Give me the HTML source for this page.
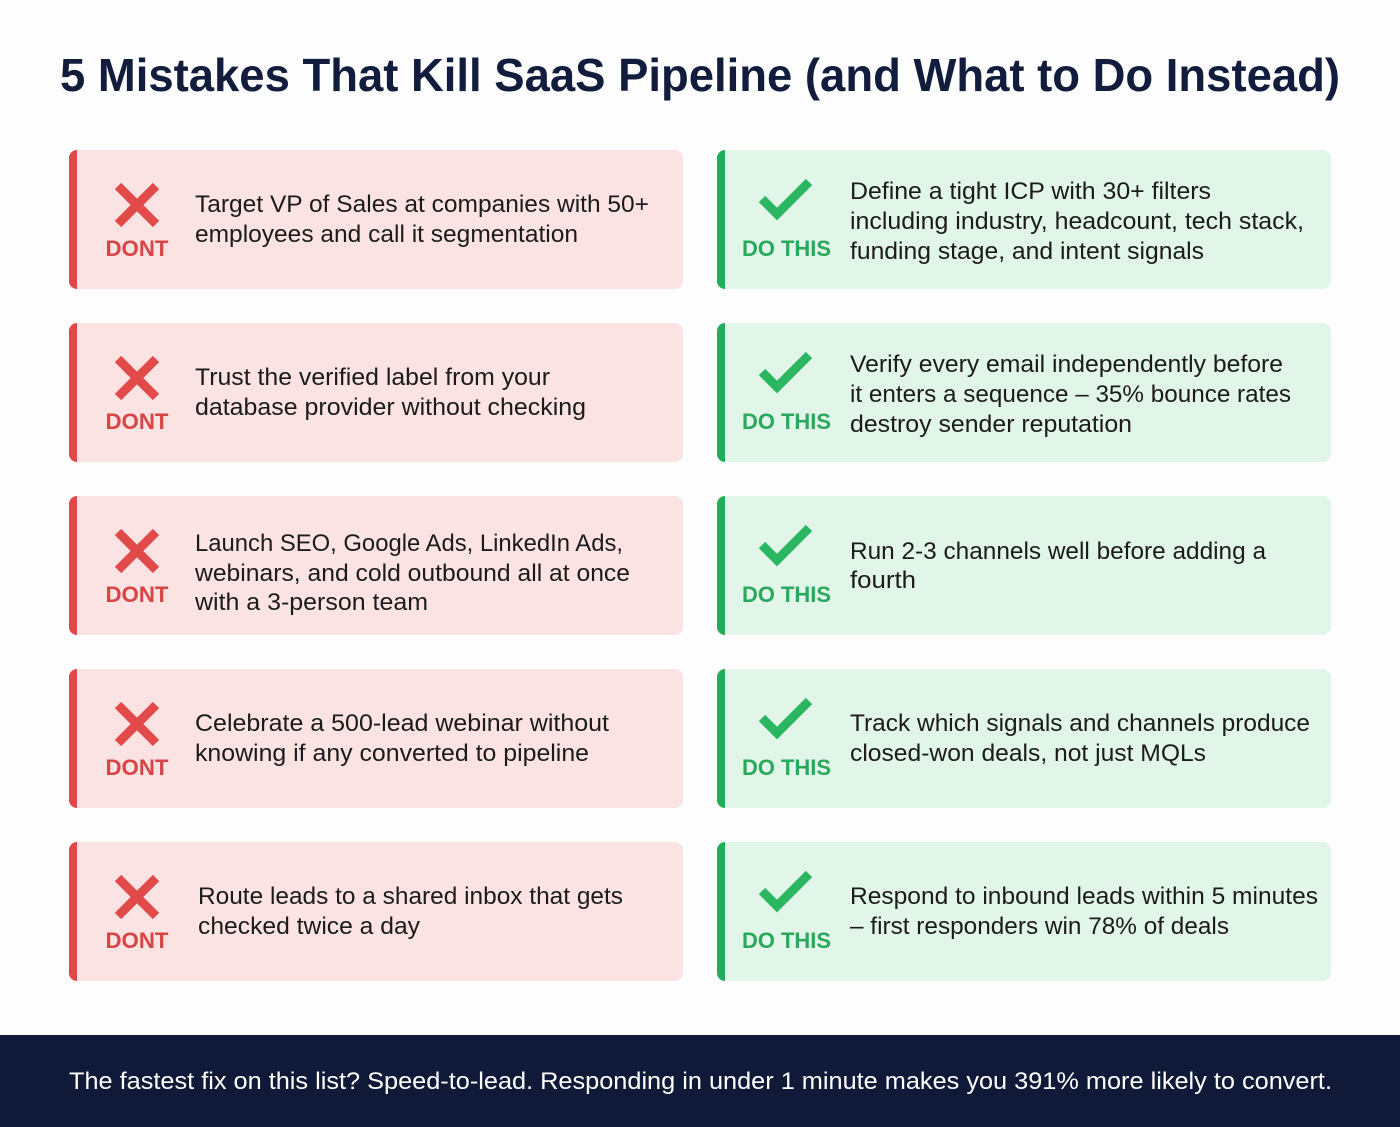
<!DOCTYPE html>
<html><head><meta charset="utf-8"><style>
html,body{margin:0;padding:0;background:#fdfdfd;}
svg{display:block;}
text{font-family:"Liberation Sans",sans-serif;}
</style></head><body>
<svg width="1400" height="1127" viewBox="0 0 1400 1127" xmlns="http://www.w3.org/2000/svg">
<rect width="1400" height="1127" fill="#fdfdfd"/>
<text x="60" y="91" font-size="46" font-weight="bold" fill="#121c3c" textLength="1280" lengthAdjust="spacingAndGlyphs">5 Mistakes That Kill SaaS Pipeline (and What to Do Instead)</text>

<defs>
<g id="L">
<rect x="69" y="0" width="614" height="139" rx="8" fill="#fbe3e3"/>
<path d="M77 0 h-0 a8 8 0 0 0 -8 8 v123 a8 8 0 0 0 8 8 h0 z" fill="#e04848"/>
<rect x="69" y="6" width="8" height="127" fill="#e04848"/>
<path d="M118 36 L156 74 M156 36 L118 74" stroke="#e24a4a" stroke-width="9"/>
<text x="137" y="106" font-size="22" font-weight="bold" fill="#d94444" text-anchor="middle" textLength="63" lengthAdjust="spacingAndGlyphs">DONT</text>
</g>
<g id="R">
<rect x="717" y="0" width="614" height="139" rx="8" fill="#e2f5e9"/>
<rect x="717" y="6" width="8" height="127" fill="#22ad58"/>
<path d="M717 8 a8 8 0 0 1 8 -8 v139 a8 8 0 0 1 -8 -8 z" fill="#22ad58"/>
<path d="M762 49 L777 64 L809 32" stroke="#2bb661" stroke-width="9" fill="none"/>
<text x="742" y="106" font-size="22" font-weight="bold" fill="#2aa85c" textLength="89" lengthAdjust="spacingAndGlyphs">DO THIS</text>
</g>
</defs>

<use href="#L" y="150"/><use href="#R" y="150"/>
<use href="#L" y="323"/><use href="#R" y="323"/>
<use href="#L" y="496"/><use href="#R" y="496"/>
<use href="#L" y="669"/><use href="#R" y="669"/>
<use href="#L" y="842"/><use href="#R" y="842"/>

<g font-size="24" fill="#1b1b1b">
<text x="195" y="212" textLength="454" lengthAdjust="spacingAndGlyphs">Target VP of Sales at companies with 50+</text>
<text x="195" y="242" textLength="383" lengthAdjust="spacingAndGlyphs">employees and call it segmentation</text>
<text x="850" y="199" textLength="361" lengthAdjust="spacingAndGlyphs">Define a tight ICP with 30+ filters</text>
<text x="850" y="229" textLength="454" lengthAdjust="spacingAndGlyphs">including industry, headcount, tech stack,</text>
<text x="850" y="259" textLength="354" lengthAdjust="spacingAndGlyphs">funding stage, and intent signals</text>

<text x="195" y="385" textLength="355" lengthAdjust="spacingAndGlyphs">Trust the verified label from your</text>
<text x="195" y="415" textLength="391" lengthAdjust="spacingAndGlyphs">database provider without checking</text>
<text x="850" y="372" textLength="433" lengthAdjust="spacingAndGlyphs">Verify every email independently before</text>
<text x="850" y="402" textLength="441" lengthAdjust="spacingAndGlyphs">it enters a sequence – 35% bounce rates</text>
<text x="850" y="432" textLength="282" lengthAdjust="spacingAndGlyphs">destroy sender reputation</text>

<text x="195" y="551" textLength="428" lengthAdjust="spacingAndGlyphs">Launch SEO, Google Ads, LinkedIn Ads,</text>
<text x="195" y="581" textLength="435" lengthAdjust="spacingAndGlyphs">webinars, and cold outbound all at once</text>
<text x="195" y="610" textLength="233" lengthAdjust="spacingAndGlyphs">with a 3-person team</text>
<text x="850" y="559" textLength="416" lengthAdjust="spacingAndGlyphs">Run 2-3 channels well before adding a</text>
<text x="850" y="588" textLength="66" lengthAdjust="spacingAndGlyphs">fourth</text>

<text x="195" y="731" textLength="414" lengthAdjust="spacingAndGlyphs">Celebrate a 500-lead webinar without</text>
<text x="195" y="761" textLength="394" lengthAdjust="spacingAndGlyphs">knowing if any converted to pipeline</text>
<text x="850" y="731" textLength="460" lengthAdjust="spacingAndGlyphs">Track which signals and channels produce</text>
<text x="850" y="761" textLength="356" lengthAdjust="spacingAndGlyphs">closed-won deals, not just MQLs</text>

<text x="198" y="904" textLength="425" lengthAdjust="spacingAndGlyphs">Route leads to a shared inbox that gets</text>
<text x="198" y="934" textLength="222" lengthAdjust="spacingAndGlyphs">checked twice a day</text>
<text x="850" y="904" textLength="468" lengthAdjust="spacingAndGlyphs">Respond to inbound leads within 5 minutes</text>
<text x="850" y="934" textLength="379" lengthAdjust="spacingAndGlyphs">– first responders win 78% of deals</text>
</g>

<rect x="0" y="1035" width="1400" height="92" fill="#101a38"/>
<text x="69" y="1089" font-size="24" fill="#ffffff" textLength="1263" lengthAdjust="spacingAndGlyphs">The fastest fix on this list? Speed-to-lead. Responding in under 1 minute makes you 391% more likely to convert.</text>
</svg>
</body></html>
